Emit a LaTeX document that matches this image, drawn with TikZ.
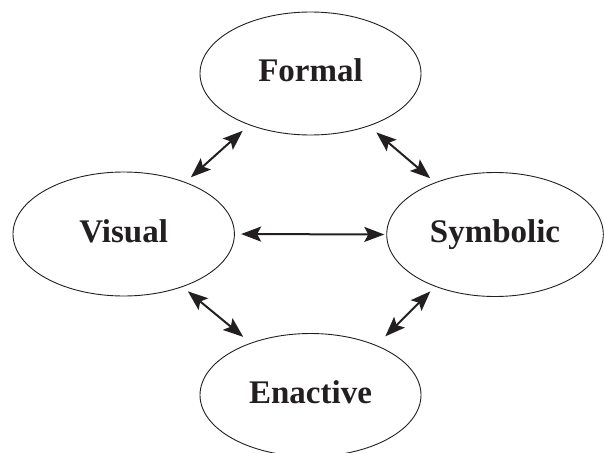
\documentclass[tikz,border=0pt]{standalone}
\usepackage{fontspec}
\setmainfont{Liberation Serif}
\usetikzlibrary{shapes.geometric,arrows.meta}
\definecolor{ink}{RGB}{35,31,32}
\begin{document}
\begin{tikzpicture}[x=1pt,y=-1pt,
  stage/.style={ellipse,draw=ink,line width=0.9pt,inner sep=0pt,outer sep=0pt,
    text=ink,font=\fontsize{33}{36}\selectfont\bfseries,
    text height=22pt,text depth=6pt},
  link/.style={draw=ink,line width=2pt,
    {Stealth[length=20pt,width=15pt,inset=4pt]}-{Stealth[length=20pt,width=15pt,inset=4pt]}}]
\useasboundingbox (0,0) rectangle (604,452);
\clip (0,0) rectangle (604,452);
\node[stage,minimum width=221pt,minimum height=123pt] (formal) at (310.5,73.5) {Formal};
\node[stage,minimum width=221.4pt,minimum height=124pt] (visual) at (123.7,234) {Visual};
\node[stage,minimum width=216.6pt,minimum height=124pt] (symbolic) at (495,234.5) {Symbolic};
\node[stage,minimum width=221pt,minimum height=123pt] (enactive) at (310.5,395) {Enactive};
\draw[link,shorten <=7.7pt,shorten >=9pt] (visual.40) -- (formal.220);
\draw[link,shorten <=10.2pt,shorten >=6.9pt] (formal.-42.1) -- (symbolic.139.15);
\draw[link,shorten <=6.7pt,shorten >=2.4pt] (visual.0) -- (symbolic.180);
\draw[link,shorten <=7.4pt,shorten >=10pt] (visual.-42.2) -- (enactive.139.5);
\draw[link,shorten <=7.2pt,shorten >=12.9pt] (symbolic.221) -- (enactive.37.9);
\end{tikzpicture}
\end{document}
